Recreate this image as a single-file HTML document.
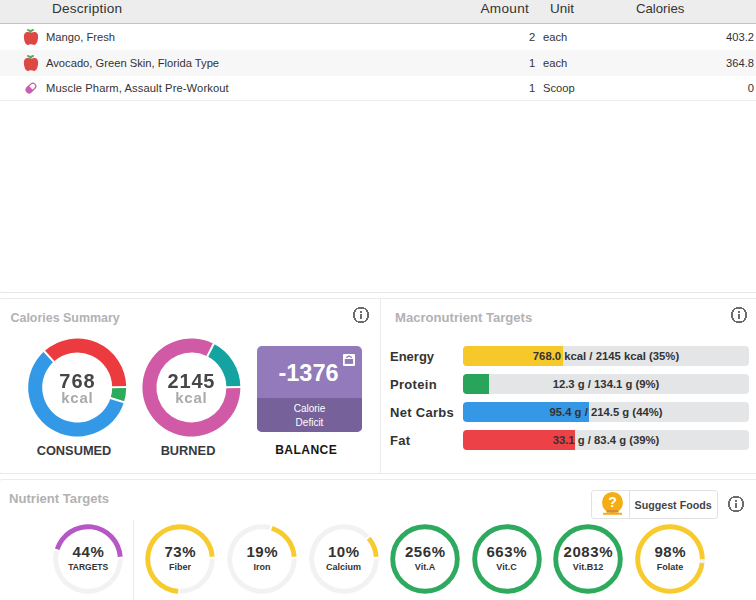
<!DOCTYPE html>
<html><head><meta charset="utf-8">
<style>
*{box-sizing:border-box;margin:0;padding:0}
html,body{width:756px;height:600px;overflow:hidden;background:#fff}
body{position:relative;font-family:"Liberation Sans",sans-serif;color:#333}
.a{position:absolute;white-space:nowrap}
.hdr{position:absolute;left:0;top:0;width:756px;height:24px;background:#ededed;border-bottom:1px solid #c2c2c2}
.hdr .a{font-size:13.7px;top:1px;color:#333;line-height:16px}
.row{position:absolute;left:0;width:756px;height:26px}
.row .a{font-size:11.2px;line-height:13px;top:7px;color:#333}
.r3 .a{top:6px}
.panel{position:absolute;border:1px solid #ebebeb;border-radius:4px;background:#fff}
.ttl{position:absolute;font-weight:bold;color:#b2b2b4;white-space:nowrap;line-height:14px}
.info{position:absolute;width:16px;height:16px;shape-rendering:crispEdges}
.lbl{position:absolute;font-weight:bold;color:#333;white-space:nowrap;font-size:13px;line-height:15px;letter-spacing:0.3px}
.bar{position:absolute;left:463px;width:286px;height:20px;background:#e4e5e7;border-radius:4px;overflow:hidden}
.bar .f{position:absolute;left:0;top:0;bottom:0}
.bar .t{position:absolute;left:0;right:0;top:0;line-height:20px;text-align:center;font-weight:bold;font-size:11.3px;color:#333}
.ring{position:absolute;top:524px;width:70px;height:70px}
.rv{position:absolute;left:0;width:70px;text-align:center;font-weight:bold;color:#333;white-space:nowrap}
</style></head><body>

<!-- table header -->
<div class="hdr">
  <span class="a" style="left:52px;font-size:13.6px;letter-spacing:0.2px">Description</span>
  <span class="a" style="left:480.5px;font-size:13.6px;letter-spacing:0.3px">Amount</span>
  <span class="a" style="left:550px;font-size:13.5px">Unit</span>
  <span class="a" style="left:636px;font-size:13.2px">Calories</span>
</div>

<!-- rows -->
<div class="row" style="top:24px;background:#fff">
  <svg class="a" style="left:23px;top:4px" width="16" height="18" viewBox="0 0 16 18">
    <path d="M5 1.9 C6 2.1 6.9 2.7 7.4 3.6 M10 1.9 C9 2.1 8.1 2.7 7.6 3.6" stroke="#5aab5a" stroke-width="2" fill="none" stroke-linecap="round"/>
    <path d="M7.5 3 V4.9" stroke="#5aab5a" stroke-width="1.8"/>
    <path d="M8 4.9 C9.5 4 11 3.8 12.3 4 C14.6 4.4 15.3 6.8 15.1 9.5 C14.9 12.5 13.6 17 11 17 C9.8 17 9.2 16.3 8 16.3 C6.8 16.3 6.2 17 5 17 C2.4 17 1.1 12.5 0.9 9.5 C0.7 6.8 1.4 4.4 3.7 4 C5 3.8 6.5 4 8 4.9 Z" fill="#dd4845"/>
  </svg>
  <span class="a" style="left:46px">Mango, Fresh</span>
  <span class="a" style="left:529px">2</span>
  <span class="a" style="left:543px">each</span>
  <span class="a" style="right:2px">403.2</span>
</div>
<div class="row" style="top:50px;background:#f7f7f7">
  <svg class="a" style="left:23px;top:4px" width="16" height="18" viewBox="0 0 16 18">
    <path d="M5 1.9 C6 2.1 6.9 2.7 7.4 3.6 M10 1.9 C9 2.1 8.1 2.7 7.6 3.6" stroke="#5aab5a" stroke-width="2" fill="none" stroke-linecap="round"/>
    <path d="M7.5 3 V4.9" stroke="#5aab5a" stroke-width="1.8"/>
    <path d="M8 4.9 C9.5 4 11 3.8 12.3 4 C14.6 4.4 15.3 6.8 15.1 9.5 C14.9 12.5 13.6 17 11 17 C9.8 17 9.2 16.3 8 16.3 C6.8 16.3 6.2 17 5 17 C2.4 17 1.1 12.5 0.9 9.5 C0.7 6.8 1.4 4.4 3.7 4 C5 3.8 6.5 4 8 4.9 Z" fill="#dd4845"/>
  </svg>
  <span class="a" style="left:46px">Avocado, Green Skin, Florida Type</span>
  <span class="a" style="left:529px">1</span>
  <span class="a" style="left:543px">each</span>
  <span class="a" style="right:2px">364.8</span>
</div>
<div class="row r3" style="top:76px;background:#fff;border-bottom:1px solid #ececec;height:25px">
  <svg class="a" style="left:23.6px;top:4.5px" width="14" height="14" viewBox="0 0 14 14">
    <g transform="rotate(-45 7 7)">
      <rect x="1.5" y="4.1" width="11" height="5.8" rx="2.9" fill="none" stroke="#c95fae" stroke-width="1.25"/>
      <path d="M7 3.5 H4.4 A3.5 3.5 0 0 0 4.4 10.5 H7 Z" fill="#c95fae"/>
    </g>
  </svg>
  <span class="a" style="left:46px;letter-spacing:0.1px">Muscle Pharm, Assault Pre-Workout</span>
  <span class="a" style="left:529px">1</span>
  <span class="a" style="left:543px">Scoop</span>
  <span class="a" style="right:2px">0</span>
</div>

<!-- top panel bottom edge -->
<div class="panel" style="left:-2px;top:-10px;width:770px;height:303px;background:transparent;border-color:#e5e6e9"></div>

<!-- middle panel -->
<div class="panel" style="left:-2px;top:298px;width:770px;height:176px"></div>
<div class="a" style="left:380px;top:299px;width:1px;height:174px;background:#ebebeb"></div>

<div class="ttl" style="left:10.5px;top:311px;font-size:12.45px">Calories Summary</div>
<svg class="info" style="left:353px;top:307px" viewBox="0 0 16 16"><path d="M5 0h6v1h-6zM3 1h10v1h-10zM2 2h2v1h-2zM12 2h2v1h-2zM1 3h2v1h-2zM13 3h2v1h-2zM1 4h2v1h-2zM13 4h2v1h-2zM0 5h2v1h-2zM14 5h2v1h-2zM0 6h2v1h-2zM14 6h2v1h-2zM0 7h2v1h-2zM14 7h2v1h-2zM0 8h2v1h-2zM14 8h2v1h-2zM0 9h2v1h-2zM14 9h2v1h-2zM0 10h2v1h-2zM14 10h2v1h-2zM1 11h2v1h-2zM13 11h2v1h-2zM1 12h2v1h-2zM13 12h2v1h-2zM2 13h2v1h-2zM12 13h2v1h-2zM3 14h10v1h-10zM5 15h6v1h-6z" fill="#6c6c6c"/><rect x="7" y="4" width="2" height="2" fill="#6c6c6c"/><rect x="7" y="7" width="2" height="5" fill="#6c6c6c"/></svg>

<!-- consumed donut -->
<svg class="a" style="left:0;top:0" width="380" height="600" viewBox="0 0 380 600"><path d="M44.22 351.26 A49 49 0 0 1 126.20 387.07 L112.20 387.19 A35 35 0 0 0 53.64 361.61 Z" fill="#eb3b3f"/><path d="M126.20 387.07 A49 49 0 0 1 123.93 402.23 L110.58 398.02 A35 35 0 0 0 112.20 387.19 Z" fill="#2bab5b"/><path d="M123.93 402.23 A49 49 0 1 1 44.22 351.26 L53.64 361.61 A35 35 0 1 0 110.58 398.02 Z" fill="#3399e6"/><line x1="54.32" y1="362.35" x2="43.55" y2="350.52" stroke="#fff" stroke-width="2"/><line x1="111.20" y1="387.20" x2="127.20" y2="387.06" stroke="#fff" stroke-width="2"/><line x1="109.63" y1="397.72" x2="124.89" y2="402.54" stroke="#fff" stroke-width="2"/><path d="M213.65 343.84 A49 49 0 0 1 240.40 387.07 L226.40 387.19 A35 35 0 0 0 207.29 356.31 Z" fill="#14a3a0"/><path d="M240.40 387.07 A49 49 0 1 1 213.65 343.84 L207.29 356.31 A35 35 0 1 0 226.40 387.19 Z" fill="#d15aa6"/><line x1="206.84" y1="357.21" x2="214.10" y2="342.95" stroke="#fff" stroke-width="2"/><line x1="225.40" y1="387.20" x2="241.40" y2="387.06" stroke="#fff" stroke-width="2"/></svg>
<div class="a" style="left:57px;top:371px;width:40px;text-align:center;font-weight:bold;font-size:20px;color:#464646;line-height:20px;letter-spacing:1px;padding-left:1px;will-change:transform">768</div>
<div class="a" style="left:57px;top:390px;width:40px;text-align:center;font-weight:bold;font-size:15px;color:#aaa;line-height:16px;letter-spacing:0.8px;padding-left:0.8px;will-change:transform">kcal</div>
<div class="a" style="left:151px;top:371px;width:80px;text-align:center;font-weight:bold;font-size:20px;color:#464646;line-height:20px;letter-spacing:0.8px;padding-left:0.8px;will-change:transform">2145</div>
<div class="a" style="left:151px;top:390px;width:80px;text-align:center;font-weight:bold;font-size:15px;color:#aaa;line-height:16px;letter-spacing:0.8px;padding-left:0.8px;will-change:transform">kcal</div>
<div class="a" style="left:34px;top:444px;width:80px;text-align:center;font-weight:bold;font-size:12.8px;color:#383a40;line-height:14px">CONSUMED</div>
<div class="a" style="left:148px;top:444px;width:80px;text-align:center;font-weight:bold;font-size:12.8px;color:#383a40;line-height:14px">BURNED</div>
<div class="a" style="left:266px;top:443px;width:80px;text-align:center;font-weight:bold;font-size:12.1px;color:#161616;line-height:14px;letter-spacing:0.4px;padding-left:0.4px">BALANCE</div>
<div class="a" style="left:257px;top:346px;width:105px;height:86px;border-radius:5px;overflow:hidden;background:#927abb">
  <div class="a" style="left:0;top:52px;width:105px;height:34px;background:#77619a"></div>
  <div class="a" style="left:0;top:15px;width:105px;text-align:center;font-weight:bold;font-size:23.5px;color:#fff;line-height:24px;padding-right:2px">-1376</div>
  <svg class="a" style="left:86px;top:8px" width="12" height="12" viewBox="0 0 12 12"><rect width="12" height="12" rx="1" fill="#fff"/><rect x="1.8" y="5" width="8.3" height="4.9" fill="#927abb"/><path d="M3.2 3.6 L6 2 L8.8 3.6" stroke="#927abb" stroke-width="1.3" fill="none"/></svg>
  <div class="a" style="left:0;top:56px;width:105px;text-align:center;font-size:10px;color:#fff;line-height:14px">Calorie<br>Deficit</div>
</div>


<div class="a" style="left:0;top:0;width:0;height:0" id="donuts"></div>

<div class="ttl" style="left:395px;top:311px;font-size:13.1px">Macronutrient Targets</div>
<svg class="info" style="left:731px;top:307px" viewBox="0 0 16 16"><path d="M5 0h6v1h-6zM3 1h10v1h-10zM2 2h2v1h-2zM12 2h2v1h-2zM1 3h2v1h-2zM13 3h2v1h-2zM1 4h2v1h-2zM13 4h2v1h-2zM0 5h2v1h-2zM14 5h2v1h-2zM0 6h2v1h-2zM14 6h2v1h-2zM0 7h2v1h-2zM14 7h2v1h-2zM0 8h2v1h-2zM14 8h2v1h-2zM0 9h2v1h-2zM14 9h2v1h-2zM0 10h2v1h-2zM14 10h2v1h-2zM1 11h2v1h-2zM13 11h2v1h-2zM1 12h2v1h-2zM13 12h2v1h-2zM2 13h2v1h-2zM12 13h2v1h-2zM3 14h10v1h-10zM5 15h6v1h-6z" fill="#6c6c6c"/><rect x="7" y="4" width="2" height="2" fill="#6c6c6c"/><rect x="7" y="7" width="2" height="5" fill="#6c6c6c"/></svg>

<div class="lbl" style="left:390px;top:349px;letter-spacing:0">Energy</div>
<div class="lbl" style="left:390px;top:377px">Protein</div>
<div class="lbl" style="left:390px;top:405px">Net Carbs</div>
<div class="lbl" style="left:390px;top:433px">Fat</div>

<div class="bar" style="top:346px"><div class="f" style="width:100px;background:#f7c82a"></div><div class="t">768.0 kcal / 2145 kcal (35%)</div></div>
<div class="bar" style="top:374px"><div class="f" style="width:26px;background:#28a55a"></div><div class="t">12.3 g / 134.1 g (9%)</div></div>
<div class="bar" style="top:402px"><div class="f" style="width:126px;background:#3498e6"></div><div class="t">95.4 g / 214.5 g (44%)</div></div>
<div class="bar" style="top:430px"><div class="f" style="width:112px;background:#ec4146"></div><div class="t">33.1 g / 83.4 g (39%)</div></div>

<!-- bottom panel -->
<div class="panel" style="left:-2px;top:479px;width:770px;height:140px"></div>
<div class="ttl" style="left:9px;top:492px;font-size:13.1px">Nutrient Targets</div>
<div class="a" style="left:133px;top:520px;width:1px;height:90px;background:#ebebeb"></div>

<!-- suggest foods -->
<div class="a" style="left:591px;top:490px;width:127px;height:29px;border:1px solid #e2e2e2;border-radius:3px;background:#fff"></div>
<div class="a" style="left:629px;top:491px;width:1px;height:27px;background:#e2e2e2"></div>
<svg class="a" style="left:601px;top:491px" width="23" height="25" viewBox="0 0 23 25">
  <circle cx="11.5" cy="11.5" r="10.5" fill="#f4ad12"/>
  <rect x="5.5" y="19" width="12" height="2.6" fill="#d98b3a"/>
  <rect x="2" y="21.8" width="19" height="2" fill="#f4ad12"/>
  <text x="11.6" y="16" text-anchor="middle" font-family="Liberation Sans" font-weight="bold" font-size="14" fill="#fff">?</text>
</svg>
<div class="a" style="left:634.5px;top:498.8px;font-weight:bold;font-size:10.7px;color:#444">Suggest Foods</div>
<svg class="info" style="left:728px;top:496px" viewBox="0 0 16 16"><path d="M5 0h6v1h-6zM3 1h10v1h-10zM2 2h2v1h-2zM12 2h2v1h-2zM1 3h2v1h-2zM13 3h2v1h-2zM1 4h2v1h-2zM13 4h2v1h-2zM0 5h2v1h-2zM14 5h2v1h-2zM0 6h2v1h-2zM14 6h2v1h-2zM0 7h2v1h-2zM14 7h2v1h-2zM0 8h2v1h-2zM14 8h2v1h-2zM0 9h2v1h-2zM14 9h2v1h-2zM0 10h2v1h-2zM14 10h2v1h-2zM1 11h2v1h-2zM13 11h2v1h-2zM1 12h2v1h-2zM13 12h2v1h-2zM2 13h2v1h-2zM12 13h2v1h-2zM3 14h10v1h-10zM5 15h6v1h-6z" fill="#6c6c6c"/><rect x="7" y="4" width="2" height="2" fill="#6c6c6c"/><rect x="7" y="7" width="2" height="5" fill="#6c6c6c"/></svg>

<svg class="a" style="left:48.2px;top:519px" width="80" height="80" viewBox="48.2 519 80 80"><path d="M122.95 559.00 A34.75 34.75 0 1 1 54.48 550.59 L59.24 551.78 A29.849999999999998 29.849999999999998 0 1 0 118.05 559.00 Z" fill="#f2f2f2"/><path d="M55.08 548.49 A34.75 34.75 0 0 1 122.87 556.58 L117.98 556.92 A29.849999999999998 29.849999999999998 0 0 0 59.75 549.97 Z" fill="#b657c6"/></svg><div class="a" style="left:48.2px;top:544.3px;width:80px;text-align:center;font-weight:bold;font-size:15px;color:#333;line-height:16px;letter-spacing:0.6px;padding-left:0.6px">44%</div><div class="a" style="left:48.2px;top:561.5px;width:80px;text-align:center;font-weight:bold;font-size:8.5px;color:#333;line-height:10px">TARGETS</div><svg class="a" style="left:140px;top:519px" width="80" height="80" viewBox="140 519 80 80"><path d="M214.75 559.00 A34.75 34.75 0 0 1 180.24 593.75 L180.21 588.85 A29.849999999999998 29.849999999999998 0 0 0 209.85 559.00 Z" fill="#f2f2f2"/><path d="M178.06 593.70 A34.75 34.75 0 1 1 214.67 556.58 L209.78 556.92 A29.849999999999998 29.849999999999998 0 1 0 178.33 588.80 Z" fill="#f7cb2d"/></svg><div class="a" style="left:140px;top:544.3px;width:80px;text-align:center;font-weight:bold;font-size:15px;color:#333;line-height:16px;letter-spacing:0.6px;padding-left:0.6px">73%</div><div class="a" style="left:140px;top:561.5px;width:80px;text-align:center;font-weight:bold;font-size:9px;color:#333;line-height:10px">Fiber</div><svg class="a" style="left:222px;top:519px" width="80" height="80" viewBox="222 519 80 80"><path d="M296.75 559.00 A34.75 34.75 0 1 1 270.41 525.28 L269.22 530.04 A29.849999999999998 29.849999999999998 0 1 0 291.85 559.00 Z" fill="#f2f2f2"/><path d="M272.51 525.88 A34.75 34.75 0 0 1 296.67 556.58 L291.78 556.92 A29.849999999999998 29.849999999999998 0 0 0 271.03 530.55 Z" fill="#f7cb2d"/></svg><div class="a" style="left:222px;top:544.3px;width:80px;text-align:center;font-weight:bold;font-size:15px;color:#333;line-height:16px;letter-spacing:0.6px;padding-left:0.6px">19%</div><div class="a" style="left:222px;top:561.5px;width:80px;text-align:center;font-weight:bold;font-size:9px;color:#333;line-height:10px">Iron</div><svg class="a" style="left:303.5px;top:519px" width="80" height="80" viewBox="303.5 519 80 80"><path d="M378.25 559.00 A34.75 34.75 0 1 1 368.66 535.04 L365.12 538.41 A29.849999999999998 29.849999999999998 0 1 0 373.35 559.00 Z" fill="#f2f2f2"/><path d="M370.12 536.66 A34.75 34.75 0 0 1 378.17 556.58 L373.28 556.92 A29.849999999999998 29.849999999999998 0 0 0 366.37 539.81 Z" fill="#f7cb2d"/></svg><div class="a" style="left:303.5px;top:544.3px;width:80px;text-align:center;font-weight:bold;font-size:15px;color:#333;line-height:16px;letter-spacing:0.6px;padding-left:0.6px">10%</div><div class="a" style="left:303.5px;top:561.5px;width:80px;text-align:center;font-weight:bold;font-size:9px;color:#333;line-height:10px">Calcium</div><svg class="a" style="left:385px;top:519px" width="80" height="80" viewBox="385 519 80 80"><circle cx="425" cy="559" r="32.3" fill="none" stroke="#2eaa5f" stroke-width="4.9"/></svg><div class="a" style="left:385px;top:544.3px;width:80px;text-align:center;font-weight:bold;font-size:15px;color:#333;line-height:16px;letter-spacing:0.6px;padding-left:0.6px">256%</div><div class="a" style="left:385px;top:561.5px;width:80px;text-align:center;font-weight:bold;font-size:9px;color:#333;line-height:10px">Vit.A</div><svg class="a" style="left:466.5px;top:519px" width="80" height="80" viewBox="466.5 519 80 80"><circle cx="506.5" cy="559" r="32.3" fill="none" stroke="#2eaa5f" stroke-width="4.9"/></svg><div class="a" style="left:466.5px;top:544.3px;width:80px;text-align:center;font-weight:bold;font-size:15px;color:#333;line-height:16px;letter-spacing:0.6px;padding-left:0.6px">663%</div><div class="a" style="left:466.5px;top:561.5px;width:80px;text-align:center;font-weight:bold;font-size:9px;color:#333;line-height:10px">Vit.C</div><svg class="a" style="left:548px;top:519px" width="80" height="80" viewBox="548 519 80 80"><circle cx="588" cy="559" r="32.3" fill="none" stroke="#2eaa5f" stroke-width="4.9"/></svg><div class="a" style="left:548px;top:544.3px;width:80px;text-align:center;font-weight:bold;font-size:15px;color:#333;line-height:16px;letter-spacing:0.6px;padding-left:0.6px">2083%</div><div class="a" style="left:548px;top:561.5px;width:80px;text-align:center;font-weight:bold;font-size:9px;color:#333;line-height:10px">Vit.B12</div><svg class="a" style="left:630px;top:519px" width="80" height="80" viewBox="630 519 80 80"><path d="M704.75 559.24 A34.75 34.75 0 0 1 704.49 563.23 L699.63 562.64 A29.849999999999998 29.849999999999998 0 0 0 699.85 559.21 Z" fill="#f2f2f2"/><path d="M704.49 563.23 A34.75 34.75 0 1 1 704.75 559.24 L699.85 559.21 A29.849999999999998 29.849999999999998 0 1 0 699.63 562.64 Z" fill="#f7cb2d"/></svg><div class="a" style="left:630px;top:544.3px;width:80px;text-align:center;font-weight:bold;font-size:15px;color:#333;line-height:16px;letter-spacing:0.6px;padding-left:0.6px">98%</div><div class="a" style="left:630px;top:561.5px;width:80px;text-align:center;font-weight:bold;font-size:9px;color:#333;line-height:10px">Folate</div>

</body></html>
